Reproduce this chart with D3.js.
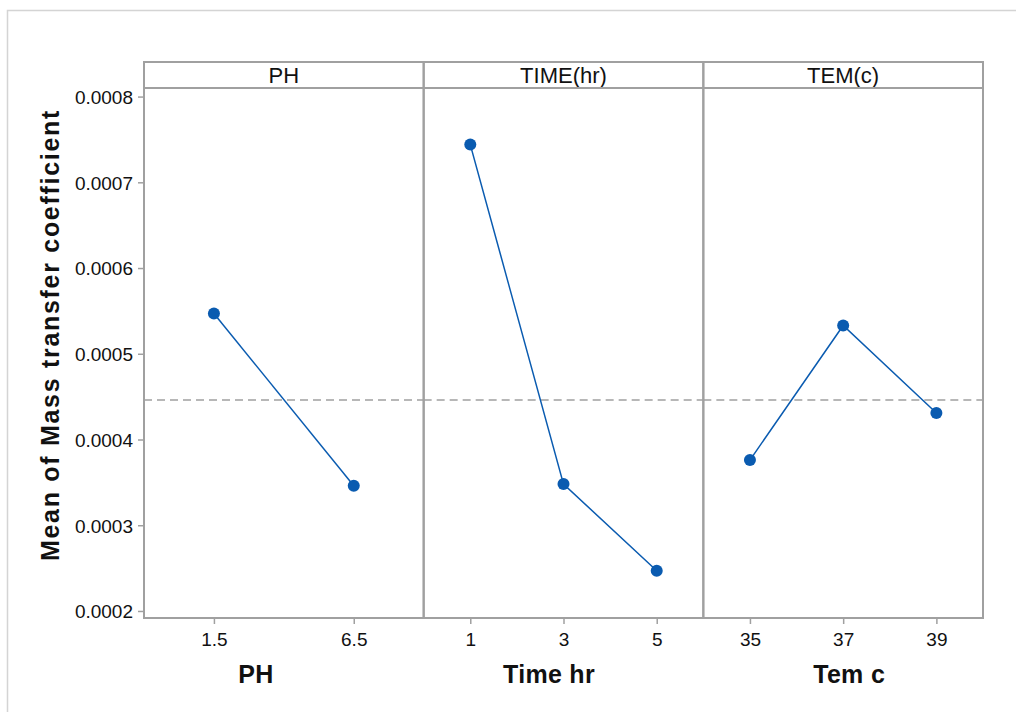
<!DOCTYPE html>
<html><head><meta charset="utf-8">
<script src="https://cdn.jsdelivr.net/npm/d3@7"></script>
<style>body{margin:0;background:#fff}svg{display:block}text{font-family:"Liberation Sans",Arial,sans-serif}</style>
</head><body>
<svg id="c" width="1016" height="712"></svg>
<script>
const factorNames = ["PH", "TIME(hr)", "TEM(c)"];
const axisTitles = ["PH", "Time hr", "Tem c"];
const phLevels = ["1.5", "6.5"];
const phMeans = [0.000547, 0.000346];
const timeLevels = ["1", "3", "5"];
const timeMeans = [0.000744, 0.000348, 0.000247];
const temLevels = ["35", "37", "39"];
const temMeans = [0.000376, 0.000533, 0.000431];
const yTicks = [0.0002, 0.0003, 0.0004, 0.0005, 0.0006, 0.0007, 0.0008];
const grandMean = 0.000446;

(function(){
const levels = [phLevels, timeLevels, temLevels];
const means = [phMeans, timeMeans, temMeans];
const titleOffsets = [-28, -14.5, 6];

const svg = d3.select("#c");
const gray = "#a0a0a0", blue = "#0a5bb0";
svg.append("rect").attr("x",7.5).attr("y",10.5).attr("width",1100).attr("height",800)
  .attr("fill","none").attr("stroke","#d4d4d4").attr("stroke-width",1.5);

const pLeft = 144, pRight = 983, pTop = 62, headerBottom = 88, pBottom = 618;
const y = d3.scaleLinear().domain([0.0001918, 0.000810]).range([pBottom, headerBottom]);
const panelX = d3.scaleBand().domain(factorNames).range([pLeft, pRight]).paddingInner(0).paddingOuter(0);
const pw = panelX.bandwidth();

const yAxis = d3.axisLeft(y).tickValues(yTicks).tickFormat(d3.format(".4f")).tickSize(6).tickSizeOuter(0);
const ya = svg.append("g").attr("transform",`translate(${pLeft},0)`).call(yAxis);
ya.select(".domain").remove();
ya.selectAll(".tick line").attr("stroke",gray).attr("stroke-width",1.5);
ya.selectAll(".tick text").attr("font-size",19).attr("fill","#111").attr("x",-11).attr("dy","0.36em");

factorNames.forEach((f,i)=>{
  const x0 = panelX(f);
  const g = svg.append("g");
  const x = d3.scalePoint().domain(levels[i]).range([x0, x0+pw]).padding(0.5);
  g.append("line").attr("x1",x0).attr("x2",x0+pw).attr("y1",y(grandMean)).attr("y2",y(grandMean))
    .attr("stroke",gray).attr("stroke-width",1.5).attr("stroke-dasharray","8,5");
  const xa = svg.append("g").attr("transform",`translate(0,${pBottom})`).call(d3.axisBottom(x).tickSize(6).tickSizeOuter(0));
  xa.select(".domain").remove();
  xa.selectAll(".tick line").attr("stroke",gray).attr("stroke-width",1.5);
  xa.selectAll(".tick text").attr("font-size",19).attr("fill","#111").attr("y",15).attr("dy","0.71em");
  svg.append("text").attr("x",x0+pw/2).attr("y",83).attr("text-anchor","middle")
    .attr("font-size",22).attr("fill","#111").text(f);
  svg.append("text").attr("x",x0+pw/2 + titleOffsets[i]).attr("y",683).attr("text-anchor","middle")
    .attr("font-size",25).attr("font-weight","bold").attr("letter-spacing","0.3px").attr("fill","#111").text(axisTitles[i]);
  const pts = levels[i].map((l,j)=>[x(l), y(means[i][j])]);
  g.append("path").attr("d",d3.line()(pts)).attr("fill","none").attr("stroke",blue).attr("stroke-width",1.5);
  g.selectAll("circle").data(pts).join("circle").attr("cx",d=>d[0]).attr("cy",d=>d[1]).attr("r",6).attr("fill",blue);
  svg.append("rect").attr("x",x0).attr("y",pTop).attr("width",pw).attr("height",pBottom-pTop)
    .attr("fill","none").attr("stroke",gray).attr("stroke-width",2);
});
svg.append("line").attr("x1",pLeft).attr("x2",pRight).attr("y1",headerBottom).attr("y2",headerBottom)
  .attr("stroke",gray).attr("stroke-width",2);

svg.append("text").attr("transform","translate(59,335) rotate(-90)").attr("text-anchor","middle")
  .attr("font-size",25).attr("font-weight","bold").attr("letter-spacing","1.7px").attr("fill","#111")
  .text("Mean of Mass transfer coefficient");
})();
</script>
</body></html>
